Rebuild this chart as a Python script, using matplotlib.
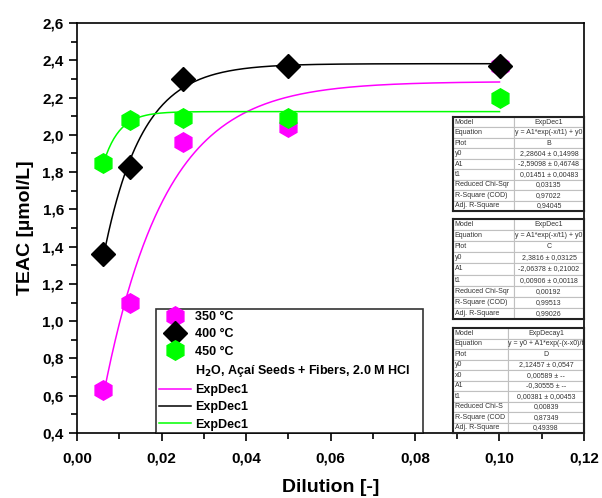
import numpy as np
import matplotlib
matplotlib.use("Agg")
import matplotlib.pyplot as plt
from matplotlib.ticker import MultipleLocator, FuncFormatter
from matplotlib.lines import Line2D

plt.rcParams['font.family'] = ['Liberation Sans', 'DejaVu Sans']

# data
dilution = [0.00625, 0.0125, 0.025, 0.05, 0.1]
teac_350 = [0.63, 1.10, 1.96, 2.04, 2.37]
teac_400 = [1.36, 1.83, 2.30, 2.37, 2.37]
teac_450 = [1.85, 2.08, 2.09, 2.09, 2.20]

# fit parameters as printed in the tables
fit_350 = dict(y0=2.28604, A1=-2.59098, t1=0.01451)
fit_400 = dict(y0=2.3816, A1=-2.06378, t1=0.00906)
fit_450 = dict(y0=2.12457, x0=0.00589, A1=-0.30555, t1=0.00381)

table_b = [["Model", "ExpDec1"],
           ["Equation", "y = A1*exp(-x/t1) + y0"],
           ["Plot", "B"],
           ["y0", "2,28604 ± 0,14998"],
           ["A1", "-2,59098 ± 0,46748"],
           ["t1", "0,01451 ± 0,00483"],
           ["Reduced Chi-Sqr", "0,03135"],
           ["R-Square (COD)", "0,97022"],
           ["Adj. R-Square", "0,94045"]]
table_c = [["Model", "ExpDec1"],
           ["Equation", "y = A1*exp(-x/t1) + y0"],
           ["Plot", "C"],
           ["y0", "2,3816 ± 0,03125"],
           ["A1", "-2,06378 ± 0,21002"],
           ["t1", "0,00906 ± 0,00118"],
           ["Reduced Chi-Sqr", "0,00192"],
           ["R-Square (COD)", "0,99513"],
           ["Adj. R-Square", "0,99026"]]
table_d = [["Model", "ExpDecay1"],
           ["Equation", "y = y0 + A1*exp(-(x-x0)/t"],
           ["Plot", "D"],
           ["y0", "2,12457 ± 0,0547"],
           ["x0", "0,00589 ± --"],
           ["A1", "-0,30555 ± --"],
           ["t1", "0,00381 ± 0,00453"],
           ["Reduced Chi-S", "0,00839"],
           ["R-Square (COD", "0,87349"],
           ["Adj. R-Square", "0,49398"]]

W, H = 602, 498
fig = plt.figure(figsize=(W / 100, H / 100), dpi=100)
ax = fig.add_axes([77 / W, 1 - 433 / H, 507 / W, 410 / H])

xf = np.linspace(dilution[0], dilution[-1], 300)
y350 = fit_350['y0'] + fit_350['A1'] * np.exp(-xf / fit_350['t1'])
y400 = fit_400['y0'] + fit_400['A1'] * np.exp(-xf / fit_400['t1'])
y450 = fit_450['y0'] + fit_450['A1'] * np.exp(-(xf - fit_450['x0']) / fit_450['t1'])

ax.plot(xf, y350, color='#FF00FF', lw=1.1, zorder=2)
ax.plot(xf, y400, color='black', lw=1.1, zorder=2)
ax.plot(xf, y450, color='#00FF00', lw=1.1, zorder=2)

ax.plot(dilution, teac_350, 'h', color='#FF00FF', ms=14, mec='#FF00FF', zorder=3)
ax.plot(dilution, teac_450, 'h', color='#00FF00', ms=14, mec='#00FF00', zorder=3)
ax.plot(dilution, teac_400, 'D', color='black', ms=12, zorder=4)

ax.set_xlim(0, 0.12)
ax.set_ylim(0.4, 2.6)
ax.xaxis.set_major_locator(MultipleLocator(0.02))
ax.xaxis.set_minor_locator(MultipleLocator(0.01))
ax.yaxis.set_major_locator(MultipleLocator(0.2))
ax.yaxis.set_minor_locator(MultipleLocator(0.1))
ax.xaxis.set_major_formatter(FuncFormatter(lambda v, p: f"{v:.2f}".replace('.', ',')))
ax.yaxis.set_major_formatter(FuncFormatter(lambda v, p: f"{v:.1f}".replace('.', ',')))
ax.tick_params(which='both', direction='out', width=1.2, labelsize=11)
ax.tick_params(which='major', length=6)
ax.tick_params(which='minor', length=4)
ax.tick_params(axis='x', which='major', pad=7)
for lab in ax.get_xticklabels() + ax.get_yticklabels():
    lab.set_fontweight('bold')
for s in ax.spines.values():
    s.set_linewidth(1.2)
ax.set_xlabel("Dilution [-]", fontsize=14, fontweight='bold', labelpad=10)
ax.set_ylabel("TEAC [µmol/L]", fontsize=14, fontweight='bold', labelpad=6)

handles = [
    Line2D([], [], ls='none', marker='h', ms=14, color='#FF00FF'),
    Line2D([], [], ls='none', marker='D', ms=12, color='black'),
    Line2D([], [], ls='none', marker='h', ms=14, color='#00FF00'),
    Line2D([], [], ls='none'),
    Line2D([], [], color='#FF00FF', lw=1.1),
    Line2D([], [], color='black', lw=1.1),
    Line2D([], [], color='#00FF00', lw=1.1),
]
labels = ["350 °C", "400 °C", "450 °C",
          "H$_\\mathbf{2}$O, Açaí Seeds + Fibers, 2.0 M HCl",
          "ExpDec1", "ExpDec1", "ExpDec1"]
leg = ax.legend(handles, labels, loc='lower left',
                bbox_to_anchor=((156 - 77) / 507, 0, (423 - 156) / 507, 0.3),
                mode='expand', borderaxespad=0, fancybox=False, frameon=True,
                edgecolor='black', prop={'weight': 'bold', 'size': 9},
                handlelength=2.6, handletextpad=0.35, borderpad=0.2,
                labelspacing=0.42)
leg.get_frame().set_linewidth(1.2)
leg.set_zorder(5)


def draw_table(rows, left, top, right, bottom, split):
    tax = fig.add_axes([left / W, 1 - bottom / H, (right - left) / W, (bottom - top) / H])
    tax.set_xticks([])
    tax.set_yticks([])
    for s in tax.spines.values():
        s.set_linewidth(1.5)
        s.set_color('#222222')
    frac = (split - left) / (right - left)
    tbl = tax.table(cellText=rows, bbox=[0, 0, 1, 1], colWidths=[frac, 1 - frac],
                    cellLoc='center')
    tbl.auto_set_font_size(False)
    for (r, c), cell in tbl.get_celld().items():
        cell.set_edgecolor('#c0c0c0')
        cell.set_linewidth(0.8)
        cell.PAD = 0.03
        txt = cell.get_text()
        txt.set_fontsize(5.0)
        txt.set_color('#333333')
        if c == 0:
            txt.set_ha('left')
    tax.set_zorder(6)
    return tax


draw_table(table_b, 453, 117, 584, 211, 514)
draw_table(table_c, 453, 219, 584, 319, 514)
draw_table(table_d, 453, 328, 584, 433, 508)

fig.savefig("out.png", dpi=100)
